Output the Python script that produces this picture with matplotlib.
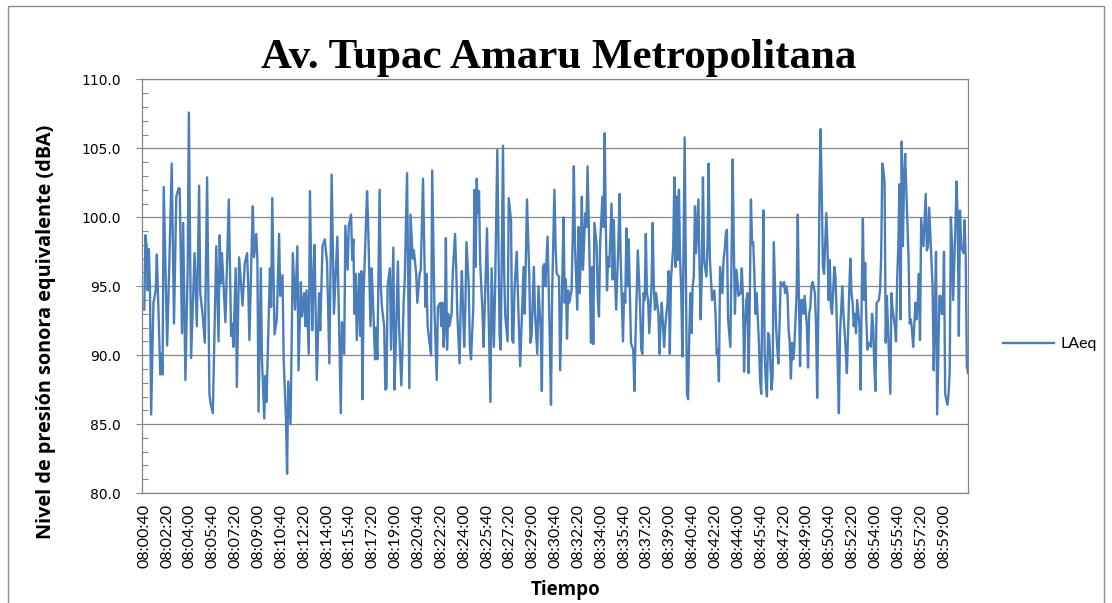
import matplotlib
matplotlib.use("Agg")
import matplotlib.pyplot as plt
from matplotlib.patches import Rectangle
from matplotlib.ticker import MultipleLocator, FormatStrFormatter
import numpy as np

# sound level meter logged one LAeq value every 5 s, sample 0 = 08:00:40
STEP_S = 5

sample_no = [
    0, 1, 2, 3, 4, 5, 6, 8, 10, 11, 14, 15, 16, 17, 20, 22, 24, 26, 28, 30,
    31, 33, 34, 36, 38, 39, 41, 44, 46, 48, 49, 51, 53, 55, 57, 58, 60, 63, 65, 66,
    67, 68, 71, 74, 76, 77, 78, 80, 81, 83,
    84, 86, 88, 90, 91, 92, 94, 95, 96, 98, 99, 100, 102, 103, 105, 106, 107, 110, 111, 112,
    114, 116, 118, 119, 121, 122, 124, 125, 126, 128, 129, 130, 132, 134, 135, 137, 138, 140, 141, 142,
    144, 145, 147, 148, 149, 151, 153, 154, 156, 158, 160, 162, 164, 166, 169, 172,
    173, 175, 176, 178, 179, 181, 182, 183, 184, 185, 186, 188, 189, 190, 191, 192, 195, 196, 198, 199,
    200, 202, 203, 204, 206, 207, 208, 210, 211, 212, 213, 215, 216, 218, 219, 220, 222, 223, 225, 226,
    227, 228, 230, 232, 233, 235, 236, 238, 239, 241, 242, 244, 246, 247, 248, 251, 252, 254, 256, 257,
    259, 260, 261, 262, 263, 264, 265, 266, 267, 269, 270, 272, 273, 274, 276, 277, 278, 280, 281, 282,
    284, 285, 286, 288, 289, 290, 291, 292, 293, 294, 296, 297, 298, 300, 301, 302, 303, 304, 306, 307,
    309, 311, 312, 314, 315, 316, 318, 319, 321, 322, 323, 324, 326, 327, 329, 330, 332, 333, 335, 337,
    338, 339, 341, 342, 344, 345,
    347, 348, 349, 350, 351, 353, 354, 355, 356, 357, 359, 360, 361, 363, 364, 366, 367, 368, 369, 370,
    371, 372, 374, 375, 376, 377, 379, 380, 381, 382, 383, 384, 386, 387, 388, 390, 391, 392, 393, 394,
    396, 397, 398, 399, 401, 402, 403, 404, 405, 406, 407, 409, 410, 411, 412, 413, 415, 416, 417, 419,
    420, 421, 422, 423, 424, 426, 427, 428, 429,
    430, 432, 434, 435, 436, 437, 438, 439, 440, 441, 442, 444, 445, 446, 447, 448, 450, 451, 452, 453,
    455, 456, 457, 458, 459, 460, 461, 463, 464, 465, 466, 467, 468, 469, 470, 471, 473, 474, 475, 476,
    477, 478, 479, 480, 481, 482, 483, 485, 486, 487, 488, 489, 490, 492, 493, 494, 495, 496, 497, 499,
    500, 501, 502, 503, 504, 506, 507, 508, 509, 510, 511, 513, 514, 515, 516, 517,
    518, 519, 520, 522, 523, 524, 525, 526, 527, 528, 529, 530, 531, 532, 533, 534, 535, 536, 538, 539,
    540, 541, 542, 543, 544, 545, 546, 547, 549, 550, 551, 552, 553, 554, 555, 556, 557, 559, 560, 561,
    562, 563, 564, 565, 566, 567, 568, 569, 571, 572, 573, 574, 575, 576, 577, 578, 580, 581, 582, 583,
    584, 585, 587, 588, 589, 590, 591, 592, 593, 594, 595, 597, 598, 599, 600, 601, 602, 604, 605, 606,
    607, 608,
    609, 611, 612, 614, 615, 617, 618, 619, 620, 621, 622, 623, 624, 626, 627, 628, 629, 630, 631, 632,
    633, 634, 636, 637, 638, 639, 640, 641, 643, 644, 645, 646, 647, 648, 649, 650, 652, 653, 654, 655,
    657, 658, 659, 660, 661, 662, 663, 664, 665, 666, 668, 669, 670, 671, 672, 673, 675, 676, 677, 678,
    679, 680, 682, 683, 684, 685, 686, 687, 689, 690, 691, 692, 693, 694, 696, 697, 698, 699, 700, 701,
    703, 704, 705, 706, 707, 708, 710, 711, 712, 713, 714, 715, 717, 718, 719, 720, 721,
]

laeq = [
    93.3, 98.7, 97.9, 94.7, 97.7, 94.7, 85.7, 93.8, 94.7, 97.3, 88.6, 90.1, 88.6, 102.2, 90.7, 96.9, 103.9, 92.3, 101.5, 102.1,
    102.1, 91.6, 99.6, 88.2, 96.4, 107.6, 89.8, 97.4, 92.1, 102.3, 94.5, 93.0, 90.9, 102.9, 87.2, 86.5, 85.8, 97.9, 91.0, 98.7,
    95.2, 97.4, 92.4, 101.3, 91.4, 92.3, 90.6, 96.3, 87.7, 97.1,
    95.9, 93.6, 96.7, 97.4, 95.0, 91.1, 97.9, 100.8, 97.1, 98.8, 96.9, 85.9, 96.3, 89.7, 85.4, 88.5, 86.6, 96.3, 93.5, 101.4,
    91.5, 92.6, 98.8, 94.3, 95.8, 89.7, 85.4, 81.4, 88.1, 85.0, 90.9, 97.4, 93.3, 97.9, 88.9, 95.3, 92.8, 94.5, 92.1, 94.7,
    90.1, 101.9, 91.8, 95.4, 98.0, 88.2, 94.5, 91.8, 97.9, 98.4, 96.7, 89.4, 103.1, 93.0, 98.6, 85.8,
    92.4, 90.1, 99.4, 96.2, 99.4, 100.2, 96.9, 98.4, 93.0, 95.9, 91.1, 95.9, 91.4, 96.1, 86.8, 94.5, 101.9, 99.3, 92.1, 96.3,
    94.3, 89.7, 92.0, 89.7, 102.0, 95.0, 93.5, 92.1, 87.5, 87.6, 95.0, 96.3, 90.4, 97.8, 87.5, 90.4, 96.8, 92.1, 87.8, 90.4,
    93.8, 95.5, 103.2, 87.6, 100.2, 97.0, 97.6, 95.9, 93.8, 95.9, 96.2, 102.8, 93.5, 95.9, 92.1, 90.0, 103.4, 93.3, 88.2, 93.5,
    93.8, 92.1, 93.8, 90.6, 92.1, 98.5, 90.4, 93.0, 92.1, 93.0, 95.9, 98.8, 96.4, 93.0, 89.4, 93.8, 96.1, 90.6, 93.3, 98.2,
    95.0, 90.6, 89.7, 93.5, 102.0, 96.4, 102.8, 100.3, 101.9, 96.7, 93.2, 90.6, 93.5, 99.2, 94.5, 90.6, 86.6, 96.3, 90.6, 94.5,
    104.9, 91.4, 90.4, 105.2, 95.9, 92.8, 91.0, 101.4, 99.8, 91.1, 90.9, 94.7, 97.5, 94.5, 89.2, 91.6, 96.4, 93.0, 101.3, 95.7,
    90.9, 91.4, 96.4, 93.0, 90.1, 95.0,
    91.8, 87.4, 96.4, 96.6, 95.0, 98.6, 94.7, 90.9, 86.4, 94.5, 102.0, 97.9, 95.9, 95.7, 88.9, 95.9, 100.0, 93.8, 95.5, 91.2,
    94.7, 93.8, 94.7, 98.6, 103.7, 97.9, 93.3, 99.3, 94.5, 96.9, 101.5, 96.2, 100.3, 99.3, 103.7, 95.9, 90.9, 96.4, 90.8, 99.6,
    97.9, 94.0, 92.8, 98.1, 101.5, 99.3, 106.1, 99.3, 94.7, 97.1, 96.4, 101.0, 95.5, 99.8, 95.9, 93.3, 98.1, 101.7, 96.9, 91.0,
    94.5, 93.8, 99.2, 95.0, 98.4, 90.9, 90.6, 90.4, 87.4,
    91.4, 97.6, 93.5, 90.4, 90.1, 94.5, 94.0, 98.8, 94.5, 94.0, 91.6, 95.0, 99.6, 95.0, 93.3, 94.5, 93.0, 90.1, 92.6, 93.8,
    90.6, 92.1, 93.0, 93.8, 96.1, 90.1, 95.5, 97.9, 102.9, 96.4, 101.5, 96.9, 102.0, 96.9, 94.7, 89.9, 105.8, 96.9, 87.2, 86.8,
    91.4, 94.5, 91.6, 95.0, 95.7, 100.8, 97.4, 101.3, 96.4, 92.6, 95.9, 102.9, 96.9, 95.7, 98.1, 103.9, 97.1, 95.5, 94.0, 94.7,
    93.0, 90.1, 90.4, 88.1, 96.4, 94.5, 96.9, 97.6, 98.8, 99.1, 92.6, 90.6, 96.9, 104.2, 98.1, 93.0,
    96.2, 95.7, 94.3, 94.5, 96.3, 94.3, 88.8, 92.1, 94.0, 94.5, 88.7, 94.0, 101.3, 98.1, 98.2, 95.9, 93.0, 94.5, 90.9, 88.2,
    87.2, 94.5, 100.5, 90.1, 88.2, 87.0, 91.6, 91.4, 87.5, 88.5, 98.2, 95.0, 92.1, 90.6, 89.4, 92.1, 95.3, 95.0, 95.3, 94.5,
    95.0, 94.5, 91.8, 90.9, 88.3, 90.9, 89.7, 90.6, 94.5, 100.2, 94.0, 89.2, 94.0, 94.0, 93.0, 94.3, 92.1, 89.1, 93.0, 93.5,
    95.0, 95.3, 94.5, 92.1, 86.9, 93.3, 101.7, 106.4, 101.7, 96.4, 95.9, 100.3, 97.9, 94.0, 96.9, 93.5, 93.0, 96.4, 95.7, 93.0,
    89.2, 85.8,
    91.6, 95.0, 93.0, 90.4, 88.7, 94.5, 97.0, 94.5, 93.8, 92.1, 93.0, 91.6, 94.0, 92.1, 87.5, 94.5, 99.9, 94.0, 96.7, 92.6,
    90.4, 90.9, 90.6, 93.0, 92.1, 89.2, 87.4, 93.8, 94.0, 94.7, 97.1, 103.9, 103.4, 102.5, 90.9, 94.3, 89.7, 87.2, 94.5, 93.3,
    92.1, 91.0, 95.5, 97.9, 102.4, 92.6, 105.5, 97.9, 102.7, 104.6, 99.3, 96.9, 92.3, 92.6, 91.8, 90.6, 93.8, 92.6, 93.8, 95.9,
    91.1, 99.9, 97.9, 99.8, 101.7, 97.6, 97.9, 100.7, 96.9, 95.0, 88.9, 93.0, 97.5, 85.7, 94.3, 94.3, 93.0, 93.0, 97.5, 87.2,
    86.4, 87.2, 88.8, 100.0, 98.1, 94.0, 99.4, 102.6, 99.8, 91.4, 100.5, 97.9, 97.4, 99.8, 97.1, 89.2, 88.7,
]

time_labels = [
    "08:00:40", "08:02:20", "08:04:00", "08:05:40", "08:07:20", "08:09:00",
    "08:10:40", "08:12:20", "08:14:00", "08:15:40", "08:17:20", "08:19:00",
    "08:20:40", "08:22:20", "08:24:00", "08:25:40", "08:27:20", "08:29:00",
    "08:30:40", "08:32:20", "08:34:00", "08:35:40", "08:37:20", "08:39:00",
    "08:40:40", "08:42:20", "08:44:00", "08:45:40", "08:47:20", "08:49:00",
    "08:50:40", "08:52:20", "08:54:00", "08:55:40", "08:57:20", "08:59:00",
]
LABEL_STEP_S = 100

t = np.array(sample_no) * STEP_S
y = np.array(laeq)

grey = "#878787"

fig = plt.figure(figsize=(11.12, 6.03), dpi=100)
fig.patches.append(Rectangle((8 / 1112, -0.05), 1096 / 1112, 1.05 - 6 / 603,
                             transform=fig.transFigure, fill=False,
                             edgecolor="#8c8c8c", lw=1.0))

ax = fig.add_axes([0.1277, 0.1824, 0.7428, 0.6858])
ax.plot(t, y, color="#4a7ebb", lw=1.7, solid_joinstyle="round", label="LAeq")

ax.set_xlim(-10, 3605)
ax.set_ylim(80, 110)
ax.set_xticks(np.arange(len(time_labels)) * LABEL_STEP_S)
ax.set_xticklabels(time_labels, rotation=90, fontfamily="Lato", fontsize=11.5)
ax.tick_params(axis="x", length=0, pad=8)

ax.yaxis.set_major_locator(MultipleLocator(5))
ax.yaxis.set_minor_locator(MultipleLocator(1))
ax.yaxis.set_major_formatter(FormatStrFormatter("%.1f"))
ax.tick_params(axis="y", which="major", direction="out", length=4, width=0.8,
               color=grey, pad=11, labelsize=10)
ax.tick_params(axis="y", which="minor", direction="in", length=4, width=0.8, color=grey)
for lab in ax.get_yticklabels():
    lab.set_fontfamily("DejaVu Sans")

ax.grid(axis="y", which="major", color=grey, lw=0.9)
for s in ax.spines.values():
    s.set_color(grey)
    s.set_linewidth(0.9)

fig.suptitle("Av. Tupac Amaru Metropolitana", x=0.502, y=0.936,
             fontfamily="Liberation Serif", fontweight="bold", fontsize=31)
ax.set_ylabel("Nivel de presión sonora equivalente (dBA)", fontfamily="Open Sans",
              fontweight="bold", fontsize=14.3, va="center")
ax.yaxis.set_label_coords(-0.116, 0.39)
ax.set_xlabel("Tiempo", fontfamily="Open Sans", fontweight="bold", fontsize=13.5, va="center")
ax.xaxis.set_label_coords(0.513, -0.2346)

ax.legend(loc="center left", bbox_to_anchor=(1003 / 1112, 1 - 344 / 603),
          bbox_transform=fig.transFigure, frameon=False, borderpad=0,
          borderaxespad=0, handlelength=3.2, handletextpad=0.4,
          prop={"family": "Lato", "size": 11.5})

fig.savefig("out.png", dpi=100, facecolor="white")
